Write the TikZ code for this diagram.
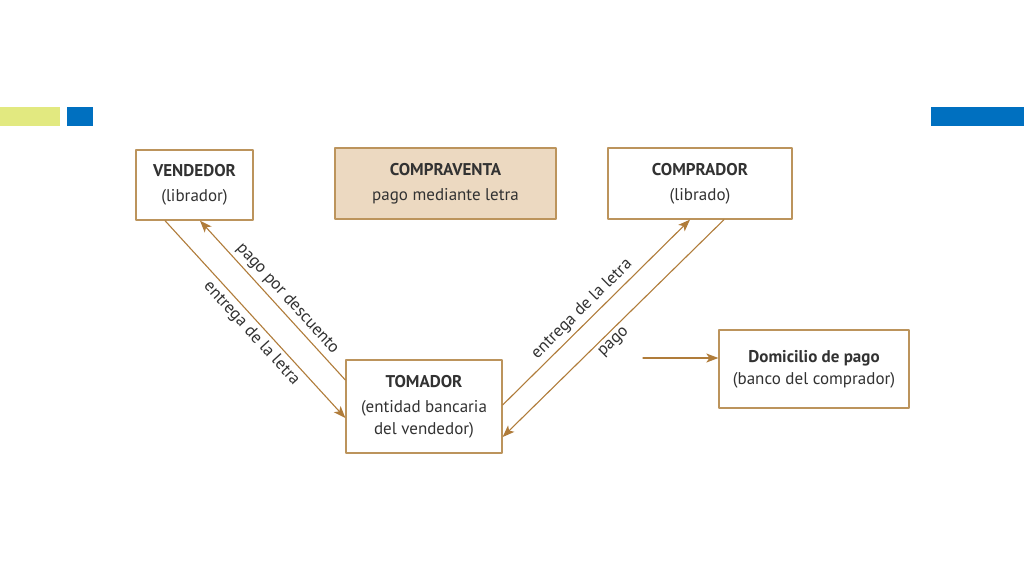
\documentclass[tikz,border=0pt]{standalone}
\usepackage{fontspec}
\setmainfont{PT Sans}
\usetikzlibrary{positioning,arrows.meta}
\definecolor{lineacaja}{RGB}{188,148,92}
\definecolor{flechacol}{RGB}{176,124,58}
\definecolor{fondocaja}{RGB}{236,217,193}
\definecolor{texto}{RGB}{50,50,50}
\definecolor{amarillo}{RGB}{226,233,128}
\definecolor{azul}{RGB}{0,112,192}
\begin{document}
\begin{tikzpicture}[x=1pt,y=-1pt,>={Stealth[length=12pt,width=9pt,inset=3pt]},font=\fontsize{17}{22}\selectfont,line join=round,line cap=round]
	%%%%Estilos
	\tikzset{caja/.style={draw=lineacaja,line width=1.3pt,align=center,text=texto,inner sep=0pt},
		flecha/.style={draw=flechacol,line width=1.1pt},
		etiqueta/.style={text=texto,sloped,inner sep=4pt}}
	\useasboundingbox[fill=white] (0,0) rectangle (1024,576);
	%%%%Barras
	\fill[amarillo] (0,107) rectangle (60,126);
	\fill[azul] (67,107) rectangle (93,126);
	\fill[azul] (931,107) rectangle (1024,126);
	%%%%Cajas
	\node[caja,minimum width=117pt,minimum height=70pt] (vendedor) at (194.5,185) {\textbf{VENDEDOR}\\[3pt](librador)};
	\node[caja,fill=fondocaja,minimum width=221pt,minimum height=71pt] (compraventa) at (445.5,183.5) {\textbf{COMPRAVENTA}\\[3pt]pago mediante letra};
	\node[caja,minimum width=184pt,minimum height=71pt] (comprador) at (700,183.5) {\textbf{COMPRADOR}\\[3pt](librado)};
	\node[caja,minimum width=156pt,minimum height=93pt] (tomador) at (424,406.5) {\textbf{TOMADOR}\\[3pt](entidad bancaria\\del vendedor)};
	\node[caja,minimum width=190pt,minimum height=78pt] (domicilio) at (814,369) {\textbf{Domicilio de pago}\\(banco del comprador)};
	%%%%Flechas
	\draw[flecha,->] ([xshift=-29.5pt]vendedor.south) -- node[etiqueta,below,pos=0.53]{entrega de la letra} ([yshift=-11.5pt]tomador.west);
	\draw[flecha,->] ([yshift=26.5pt]tomador.west) -- node[etiqueta,above,pos=0.46]{pago por descuento} ([xshift=5.5pt]vendedor.south);
	\draw[flecha,->] ([yshift=1.5pt]tomador.east) -- node[etiqueta,above,pos=0.47]{entrega de la letra} ([xshift=-10pt]comprador.south);
	\draw[flecha,->] ([xshift=24pt]comprador.south) -- node[etiqueta,below,pos=0.53]{pago} ([yshift=-30.5pt]tomador.east);
	\coordinate (iniciopago) at (643,358);
	\draw[flecha,->] (iniciopago) -- ([yshift=11pt]domicilio.west);
\end{tikzpicture}
\end{document}
